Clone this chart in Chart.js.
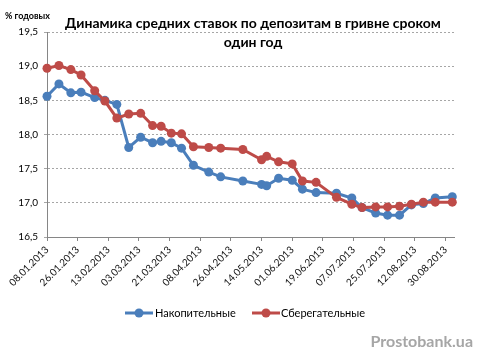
<!DOCTYPE html>
<html>
<head>
<meta charset="utf-8">
<script src="https://cdn.jsdelivr.net/npm/chart.js@4/dist/chart.umd.min.js"></script>
<style>
  html, body { margin: 0; padding: 0; background: #fff; }
</style>
</head>
<body>
<canvas id="chart" width="480" height="363"></canvas>
<script>
// Data
const dates = [
  '08.01.2013', '15.01.2013', '22.01.2013', '28.01.2013', '05.02.2013', '11.02.2013',
  '18.02.2013', '25.02.2013', '04.03.2013', '11.03.2013', '16.03.2013', '22.03.2013',
  '28.03.2013', '04.04.2013', '13.04.2013', '20.04.2013', '03.05.2013', '14.05.2013',
  '17.05.2013', '24.05.2013', '01.06.2013', '07.06.2013', '15.06.2013', '27.06.2013',
  '06.07.2013', '12.07.2013', '20.07.2013', '27.07.2013', '03.08.2013', '10.08.2013',
  '17.08.2013', '24.08.2013', '03.09.2013'
];
const accumulative = [
  18.56, 18.74, 18.61, 18.62, 18.54, 18.50, 18.44, 17.81, 17.96, 17.88, 17.90, 17.88,
  17.80, 17.55, 17.45, 17.38, 17.32, 17.27, 17.25, 17.36, 17.33, 17.20, 17.15, 17.14,
  17.07, 16.93, 16.85, 16.82, 16.82, 16.97, 16.99, 17.07, 17.09
];
const savings = [
  18.97, 19.01, 18.95, 18.87, 18.64, 18.49, 18.24, 18.30, 18.31, 18.13, 18.12, 18.02,
  18.01, 17.82, 17.81, 17.80, 17.78, 17.63, 17.68, 17.60, 17.57, 17.32, 17.30, 17.08,
  16.98, 16.93, 16.94, 16.94, 16.95, 16.98, 17.01, 17.01, 17.01
];
const tickDates = [
  '08.01.2013', '26.01.2013', '13.02.2013', '03.03.2013', '21.03.2013', '08.04.2013',
  '26.04.2013', '14.05.2013', '01.06.2013', '19.06.2013', '07.07.2013', '25.07.2013',
  '12.08.2013', '30.08.2013'
];
const seriesNames = ['Накопительные', 'Сберегательные'];
const colors = ['#4a7ebb', '#be4b48'];

const DAY = 86400000;
const origin = Date.UTC(2013, 0, 8);
function dayOf(s) {
  const [d, m, y] = s.split('.').map(Number);
  return Math.round((Date.UTC(y, m - 1, d) - origin) / DAY);
}
function labelOf(v) {
  const dt = new Date(origin + v * DAY);
  const p = n => String(n).padStart(2, '0');
  return p(dt.getUTCDate()) + '.' + p(dt.getUTCMonth() + 1) + '.' + dt.getUTCFullYear();
}
const days = dates.map(dayOf);
const tickDays = tickDates.map(dayOf);

const FONT = 'Lato, "Open Sans", sans-serif';

const decorations = {
  id: 'decorations',
  afterDraw(chart) {
    const ctx = chart.ctx;
    ctx.save();
    // title
    ctx.fillStyle = '#000';
    ctx.textAlign = 'center';
    ctx.textBaseline = 'middle';
    ctx.font = 'bold 14px ' + FONT;
    ctx.fillText('Динамика средних ставок по депозитам в гривне сроком', 253, 23);
    ctx.fillText('один год', 253, 42);
    // y axis title
    ctx.textAlign = 'left';
    ctx.font = 'bold 9px ' + FONT;
    ctx.fillText('% годовых', 5, 16);
    // legend
    const legend = [{ x: 125, tx: 155 }, { x: 252, tx: 281 }];
    ctx.font = '11px ' + FONT;
    legend.forEach((l, i) => {
      ctx.strokeStyle = colors[i];
      ctx.fillStyle = colors[i];
      ctx.lineWidth = 3;
      ctx.beginPath();
      ctx.moveTo(l.x, 313);
      ctx.lineTo(l.x + 28, 313);
      ctx.stroke();
      ctx.beginPath();
      ctx.arc(l.x + 14, 313, 4.5, 0, Math.PI * 2);
      ctx.fill();
      ctx.fillStyle = '#000';
      ctx.fillText(seriesNames[i], l.tx, 313);
    });
    // watermark
    ctx.textAlign = 'right';
    ctx.fillStyle = '#a6a6a6';
    ctx.font = 'bold 16px ' + FONT;
    ctx.fillText('Prostobank.ua', 473, 342);
    ctx.restore();
  }
};

new Chart(document.getElementById('chart'), {
  type: 'line',
  data: {
    datasets: [accumulative, savings].map((vals, i) => ({
      label: seriesNames[i],
      data: vals.map((v, j) => ({ x: days[j], y: v })),
      borderColor: colors[i],
      backgroundColor: colors[i],
      pointBackgroundColor: colors[i],
      pointBorderColor: colors[i],
      borderWidth: 3,
      pointRadius: 4.5,
      pointBorderWidth: 0,
      pointHoverRadius: 4.5,
      tension: 0,
      clip: false,
      order: i === 0 ? 1 : 0
    }))
  },
  options: {
    responsive: false,
    animation: false,
    layout: { padding: { top: 32, right: 26, left: 0, bottom: 0 } },
    plugins: {
      legend: { display: false },
      tooltip: { enabled: false },
      title: { display: false }
    },
    scales: {
      x: {
        type: 'linear',
        min: 0,
        max: 239,
        afterBuildTicks: s => { s.ticks = tickDays.map(v => ({ value: v })); },
        afterFit: s => { s.height = 126; },
        ticks: {
          autoSkip: false,
          minRotation: 45,
          maxRotation: 45,
          padding: 3,
          color: '#111',
          font: { family: FONT, size: 10 },
          callback: v => labelOf(v)
        },
        grid: { drawOnChartArea: false, drawTicks: true, tickLength: 4, color: '#868686' },
        border: { color: '#868686', width: 1 }
      },
      y: {
        min: 16.5,
        max: 19.5,
        afterFit: s => { s.width = 47; },
        ticks: {
          stepSize: 0.5,
          padding: 6,
          color: '#000',
          font: { family: FONT, size: 10 },
          callback: v => v.toFixed(1).replace('.', ',')
        },
        grid: { color: '#a6a6a6', drawTicks: true, tickLength: 3 },
        border: { color: '#868686', width: 1, dash: [2, 2] }
      }
    }
  },
  plugins: [decorations]
});
</script>
</body>
</html>
